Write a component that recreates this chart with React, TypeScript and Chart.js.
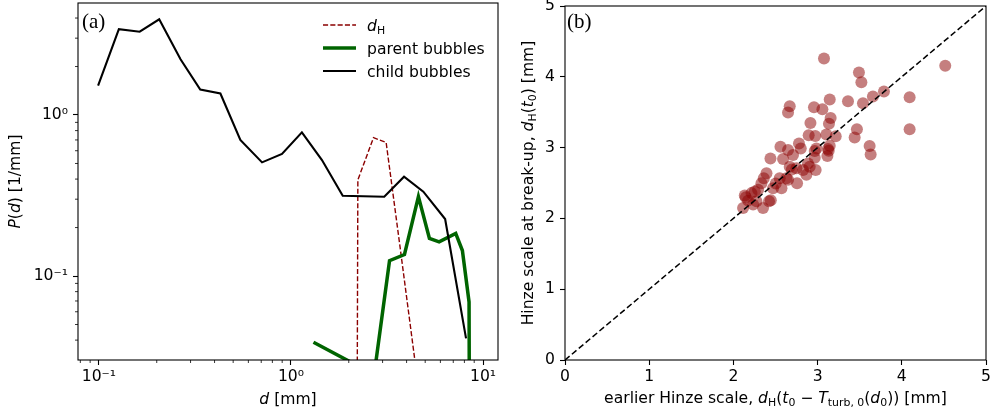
import React, { useEffect, useRef } from 'react';
import { Chart, registerables } from 'chart.js';

Chart.register(...registerables);

// ---------- data: panel (a) ----------
const childD = [0.099, 0.127, 0.163, 0.206, 0.266, 0.337, 0.429, 0.545, 0.707, 0.898, 1.14, 1.45, 1.86, 2.38, 3.06, 3.88, 4.89, 6.35, 8.16];
const childP = [1.52, 3.41, 3.29, 3.93, 2.22, 1.44, 1.36, 0.70, 0.508, 0.573, 0.781, 0.525, 0.315, 0.313, 0.311, 0.414, 0.334, 0.226, 0.041];

const dHD = [1.87, 2.23, 2.69, 3.13, 3.70, 5.18];
const dHP = [1e-30, 0.395, 0.723, 0.676, 0.151, 0.007];

const parentD = [1.31, 2.24, 2.71, 3.26, 3.90, 4.61, 5.26, 5.91, 7.21, 7.81, 8.46, 10.0];
const parentP = [0.0388, 0.0276, 0.0243, 0.1245, 0.136, 0.311, 0.171, 0.163, 0.184, 0.144, 0.069, 1e-30];

const LX_TICKS = [0.1, 1, 10];
const LX_LABELS = ['10\u207B\u00B9', '10\u2070', '10\u00B9'];
const LY_TICKS = [0.1, 1];
const LY_LABELS = ['10\u207B\u00B9', '10\u2070'];
const LX_MIN = 0.0778, LX_MAX = 11.97;
const LY_MIN = 0.0301, LY_MAX = 4.96;

// ---------- data: panel (b) ----------
const scatterX = [3.076, 4.516, 3.491, 3.520, 3.788, 3.657, 4.093, 3.361, 3.539, 3.144, 2.669, 2.649, 2.957, 3.057, 3.155, 3.135, 2.915, 4.093, 3.467, 3.440, 3.215, 3.104, 2.894, 2.972, 3.618, 3.630, 3.144, 3.123, 2.966, 2.779, 2.800, 2.559, 2.649, 2.708, 2.440, 2.590, 3.116, 2.966, 2.886, 2.669, 2.749, 2.827, 2.906, 2.977, 2.867, 2.630, 2.756, 2.550, 2.393, 2.361, 2.333, 2.293, 2.471, 2.571, 2.135, 2.215, 2.274, 2.423, 2.352, 2.115, 2.234, 2.649, 2.174, 2.986, 2.147, 3.132, 2.444, 2.254, 2.693, 2.503];
const scatterY = [4.258, 4.155, 4.062, 3.922, 3.791, 3.721, 3.711, 3.655, 3.627, 3.679, 3.585, 3.497, 3.571, 3.543, 3.417, 3.338, 3.347, 3.259, 3.259, 3.141, 3.161, 3.184, 3.175, 3.165, 3.021, 2.903, 3.025, 2.979, 2.951, 3.057, 2.987, 3.011, 2.965, 2.895, 2.847, 2.839, 2.881, 2.857, 2.777, 2.731, 2.707, 2.685, 2.731, 2.685, 2.615, 2.567, 2.497, 2.567, 2.637, 2.567, 2.497, 2.405, 2.427, 2.427, 2.325, 2.357, 2.241, 2.241, 2.147, 2.147, 2.195, 2.545, 2.251, 2.987, 2.297, 2.955, 2.255, 2.381, 2.689, 2.493];
const diagX = [0, 5];
const diagY = [0, 5];
const B_TICKS = [0, 1, 2, 3, 4, 5];
const B_LABELS = ['0', '1', '2', '3', '4', '5'];

const DARKRED = '#8b0000';
const GREEN = '#006400';
const FAM = '"DejaVu Sans", sans-serif';
const FS = 15.6;

type Seg = { t: string; it?: boolean; sub?: boolean };
const fontOf = (s: Seg, size: number) => `${s.it ? 'italic ' : ''}${s.sub ? size * 0.7 : size}px ${FAM}`;

function drawRich(ctx: CanvasRenderingContext2D, segs: Seg[], x: number, y: number, size: number, align: 'left' | 'center' = 'left', rot = false) {
  ctx.save();
  ctx.translate(x, y);
  if (rot) ctx.rotate(-Math.PI / 2);
  ctx.textAlign = 'left';
  ctx.textBaseline = 'alphabetic';
  ctx.fillStyle = '#000';
  let w = 0;
  for (const s of segs) { ctx.font = fontOf(s, size); w += ctx.measureText(s.t).width; }
  let cx = align === 'center' ? -w / 2 : 0;
  for (const s of segs) {
    ctx.font = fontOf(s, size);
    ctx.fillText(s.t, cx, s.sub ? size * 0.22 : 0);
    cx += ctx.measureText(s.t).width;
  }
  ctx.restore();
}

function minorLog(min: number, max: number) {
  const out: number[] = [];
  for (let e = Math.floor(Math.log10(min)); e <= Math.ceil(Math.log10(max)); e++) {
    for (let k = 2; k <= 9; k++) {
      const v = k * Math.pow(10, e);
      if (v > min && v < max) out.push(v);
    }
  }
  return out;
}

function drawBox(ctx: CanvasRenderingContext2D, a: any) {
  ctx.save();
  ctx.strokeStyle = '#000';
  ctx.lineWidth = 1.1;
  ctx.strokeRect(a.left, a.top, a.right - a.left, a.bottom - a.top);
  ctx.restore();
}

const leftDecor = {
  id: 'leftDecor',
  afterDraw(chart: any) {
    const { ctx, chartArea: a, scales } = chart;
    drawBox(ctx, a);
    ctx.save();
    ctx.strokeStyle = '#000';
    ctx.lineWidth = 0.8;
    ctx.beginPath();
    for (const v of minorLog(scales.x.min, scales.x.max)) {
      const p = scales.x.getPixelForValue(v);
      ctx.moveTo(p, a.bottom); ctx.lineTo(p, a.bottom + 3);
    }
    for (const v of minorLog(scales.y.min, scales.y.max)) {
      const p = scales.y.getPixelForValue(v);
      ctx.moveTo(a.left, p); ctx.lineTo(a.left - 3, p);
    }
    ctx.stroke();
    ctx.restore();

    // panel label
    ctx.save();
    ctx.fillStyle = '#000';
    ctx.font = '21px "Liberation Serif", serif';
    ctx.textBaseline = 'alphabetic';
    ctx.fillText('(a)', 82, 28);
    ctx.restore();

    // axis titles
    drawRich(ctx, [{ t: 'P', it: true }, { t: '(' }, { t: 'd', it: true }, { t: ') [1/mm]' }], 20, (a.top + a.bottom) / 2, FS, 'center', true);
    drawRich(ctx, [{ t: 'd', it: true }, { t: ' [mm]' }], (a.left + a.right) / 2, 404, FS, 'center');

    // legend
    const rows: { segs: Seg[]; color: string; w: number; dash: number[] }[] = [
      { segs: [{ t: 'd', it: true }, { t: 'H', sub: true }], color: DARKRED, w: 1.4, dash: [5.1, 2.2] },
      { segs: [{ t: 'parent bubbles' }], color: GREEN, w: 3.5, dash: [] },
      { segs: [{ t: 'child bubbles' }], color: '#000', w: 2.1, dash: [] },
    ];
    const ys = [25, 48, 71];
    rows.forEach((r, i) => {
      ctx.save();
      ctx.strokeStyle = r.color;
      ctx.lineWidth = r.w;
      ctx.setLineDash(r.dash);
      ctx.beginPath();
      ctx.moveTo(323, ys[i]); ctx.lineTo(356, ys[i]);
      ctx.stroke();
      ctx.restore();
      drawRich(ctx, r.segs, 367, ys[i] + 5.5, FS, 'left');
    });
  },
};

const rightDecor = {
  id: 'rightDecor',
  afterDraw(chart: any) {
    const { ctx, chartArea: a } = chart;
    drawBox(ctx, a);
    ctx.save();
    ctx.fillStyle = '#000';
    ctx.font = '21px "Liberation Serif", serif';
    ctx.textBaseline = 'alphabetic';
    ctx.fillText('(b)', a.left + 2, 28);
    ctx.restore();
    drawRich(ctx, [
      { t: 'Hinze scale at break-up, ' }, { t: 'd', it: true }, { t: 'H', sub: true }, { t: '(' }, { t: 't', it: true }, { t: '0', sub: true }, { t: ') [mm]' },
    ], 23, (a.top + a.bottom) / 2, FS, 'center', true);
    drawRich(ctx, [
      { t: 'earlier Hinze scale, ' }, { t: 'd', it: true }, { t: 'H', sub: true }, { t: '(' }, { t: 't', it: true }, { t: '0', sub: true },
      { t: ' \u2212 ' }, { t: 'T', it: true }, { t: 'turb, 0', sub: true }, { t: '(' }, { t: 'd', it: true }, { t: '0', sub: true }, { t: ')) [mm]' },
    ], (a.left + a.right) / 2, 403, FS, 'center');
  },
};

const tickFont = { family: FAM, size: FS };

export default function App() {
  const leftRef = useRef<HTMLCanvasElement>(null);
  const rightRef = useRef<HTMLCanvasElement>(null);

  useEffect(() => {
    const left = new Chart(leftRef.current as HTMLCanvasElement, {
      type: 'scatter',
      data: {
        datasets: [
          { label: 'dH', data: dHD.map((x, i) => ({ x, y: dHP[i] })), showLine: true, borderColor: DARKRED, backgroundColor: DARKRED, borderWidth: 1.4, borderDash: [5.1, 2.2], pointRadius: 0, clip: 0, order: 3 } as any,
          { label: 'parent bubbles', data: parentD.map((x, i) => ({ x, y: parentP[i] })), showLine: true, borderColor: GREEN, backgroundColor: GREEN, borderWidth: 3.5, pointRadius: 0, clip: 0, order: 2 } as any,
          { label: 'child bubbles', data: childD.map((x, i) => ({ x, y: childP[i] })), showLine: true, borderColor: '#000', backgroundColor: '#000', borderWidth: 2.1, pointRadius: 0, clip: 0, order: 1 } as any,
        ],
      },
      options: {
        animation: false,
        responsive: false,
        devicePixelRatio: 1,
        layout: { padding: { left: 0, top: 3, right: 12, bottom: 0 } },
        plugins: { legend: { display: false }, tooltip: { enabled: false } },
        scales: {
          x: {
            type: 'logarithmic', min: LX_MIN, max: LX_MAX, bounds: 'data',
            afterBuildTicks: (s: any) => { s.ticks = LX_TICKS.map((v) => ({ value: v })); },
            afterFit: (s: any) => { s.height = 54; s.paddingLeft = 0; s.paddingRight = 0; },
            ticks: { callback: (v: any) => LX_LABELS[LX_TICKS.indexOf(Number(v))], autoSkip: false, maxRotation: 0, font: tickFont, color: '#000', padding: 3 },
            grid: { drawOnChartArea: false, tickLength: 5, tickColor: '#000', tickWidth: 1.1 },
            border: { display: false },
          } as any,
          y: {
            type: 'logarithmic', min: LY_MIN, max: LY_MAX, bounds: 'data',
            afterBuildTicks: (s: any) => { s.ticks = LY_TICKS.map((v) => ({ value: v })); },
            afterFit: (s: any) => { s.width = 78; s.paddingTop = 0; s.paddingBottom = 0; },
            ticks: { callback: (v: any) => LY_LABELS[LY_TICKS.indexOf(Number(v))], autoSkip: false, font: tickFont, color: '#000', padding: 5 },
            grid: { drawOnChartArea: false, tickLength: 5, tickColor: '#000', tickWidth: 1.1 },
            border: { display: false },
          } as any,
        },
      },
      plugins: [leftDecor],
    } as any);

    const right = new Chart(rightRef.current as HTMLCanvasElement, {
      type: 'scatter',
      data: {
        datasets: [
          { label: 'diag', data: diagX.map((x, i) => ({ x, y: diagY[i] })), showLine: true, borderColor: '#000', borderWidth: 1.5, borderDash: [6, 3], pointRadius: 0, clip: 0, order: 0 } as any,
          { label: 'pts', data: scatterX.map((x, i) => ({ x, y: scatterY[i] })), backgroundColor: 'rgba(139,0,0,0.5)', borderWidth: 0, pointRadius: 6, order: 1 } as any,
        ],
      },
      options: {
        animation: false,
        responsive: false,
        devicePixelRatio: 1,
        layout: { padding: { left: 0, top: 3, right: 15, bottom: 0 } },
        plugins: { legend: { display: false }, tooltip: { enabled: false } },
        scales: {
          x: {
            type: 'linear', min: 0, max: 5, bounds: 'data',
            afterBuildTicks: (s: any) => { s.ticks = B_TICKS.map((v) => ({ value: v })); },
            afterFit: (s: any) => { s.height = 54; s.paddingLeft = 0; s.paddingRight = 0; },
            ticks: { callback: (v: any) => B_LABELS[B_TICKS.indexOf(Number(v))], autoSkip: false, maxRotation: 0, font: tickFont, color: '#000', padding: 3 },
            grid: { drawOnChartArea: false, tickLength: 5, tickColor: '#000', tickWidth: 1.1 },
            border: { display: false },
          } as any,
          y: {
            type: 'linear', min: 0, max: 5, bounds: 'data',
            afterBuildTicks: (s: any) => { s.ticks = B_TICKS.map((v) => ({ value: v })); },
            afterFit: (s: any) => { s.width = 55; s.paddingTop = 0; s.paddingBottom = 0; },
            ticks: { callback: (v: any) => B_LABELS[B_TICKS.indexOf(Number(v))], autoSkip: false, font: tickFont, color: '#000', padding: 5 },
            grid: { drawOnChartArea: false, tickLength: 5, tickColor: '#000', tickWidth: 1.1 },
            border: { display: false },
          } as any,
        },
      },
      plugins: [rightDecor],
    } as any);

    return () => { left.destroy(); right.destroy(); };
  }, []);

  return (
    <div style={{ position: 'fixed', left: 0, top: 0, width: 1001, height: 414, background: '#fff' }}>
      <canvas ref={leftRef} width={510} height={414} style={{ position: 'absolute', left: 0, top: 0, width: 510, height: 414 }} />
      <canvas ref={rightRef} width={491} height={414} style={{ position: 'absolute', left: 510, top: 0, width: 491, height: 414 }} />
    </div>
  );
}
